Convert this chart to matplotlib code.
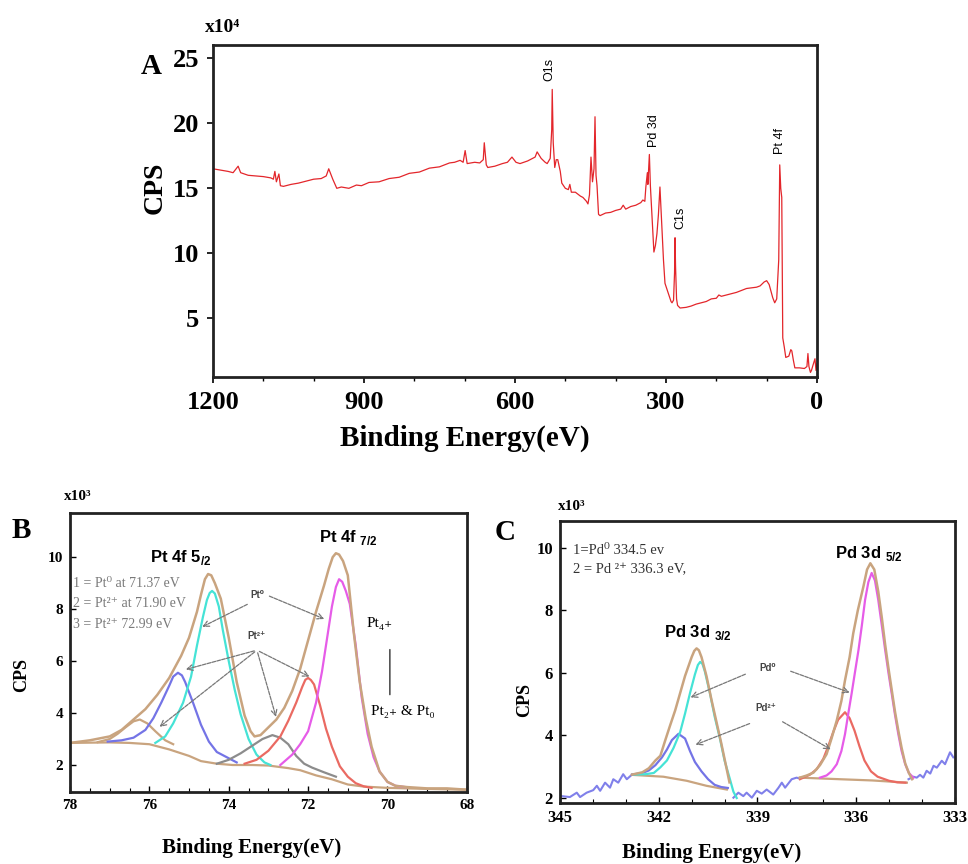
import matplotlib
matplotlib.use('Agg')
import matplotlib.pyplot as plt
from matplotlib.ticker import MultipleLocator

plt.rcParams['mathtext.fontset'] = 'custom'
plt.rcParams['mathtext.rm'] = 'Liberation Sans'
plt.rcParams['mathtext.bf'] = 'Liberation Sans:bold'

SERIF = ['Liberation Serif', 'DejaVu Serif']
SANS = ['Liberation Sans', 'DejaVu Sans']

# ---------------- panel A : survey spectrum (x10^4 CPS) ----------------
A_be = [1200, 1185, 1170, 1160, 1150, 1145, 1130, 1115, 1100, 1085,
        1080, 1077, 1074, 1069, 1066, 1060, 1045, 1030, 1015, 1000,
        985, 975, 970, 962, 954, 945, 930, 915, 905, 890,
        870, 850, 830, 810, 790, 770, 750, 730, 720, 709,
        703, 699, 695, 680, 670, 663, 661, 657, 654, 640,
        625, 615, 606, 598, 590, 575, 560, 556, 548, 540,
        536, 530, 527, 526, 524, 521, 518, 515, 510, 507,
        500, 494, 491, 488, 480, 470, 465, 458, 455, 452,
        449, 446, 443, 441, 439, 437, 434, 431, 420, 410,
        400, 390, 385, 380, 370, 360, 350, 346, 342, 340,
        337, 336, 333, 331, 328, 324, 321, 318, 315, 312,
        310, 308, 305, 302, 296, 290, 288, 285, 283, 282,
        281, 279, 277, 272, 260, 250, 240, 230, 220, 210,
        200, 195, 190, 180, 170, 160, 150, 140, 130, 120,
        113, 105, 100, 95, 88, 84, 80, 76, 74, 72,
        70, 68, 65, 62, 56, 52, 50, 47, 44, 35,
        25, 20, 18, 16, 13, 11, 8, 4, 2, 0]
A_cps = [16.5, 16.4, 16.3, 16.2, 16.7, 16.2, 16.0, 15.95, 15.9, 15.8,
         15.7, 16.3, 15.5, 16.1, 15.2, 15.15, 15.3, 15.4, 15.55, 15.7,
         15.75, 15.95, 16.5, 15.7, 15.0, 15.1, 15.0, 15.25, 15.2, 15.45,
         15.5, 15.75, 15.85, 16.15, 16.25, 16.55, 16.65, 16.95, 17.0, 17.15,
         17.0, 17.9, 16.9, 17.0, 16.95, 17.2, 18.5, 16.8, 16.6, 16.7,
         16.9, 17.0, 17.4, 17.0, 16.9, 17.1, 17.4, 17.8, 17.3, 17.0,
         16.9, 17.3, 19.5, 22.6, 18.5, 16.6, 17.2, 17.2, 16.3, 15.4,
         15.0, 14.9, 15.3, 14.7, 14.7, 14.4, 14.3, 14.0, 13.8, 14.5,
         17.4, 15.5, 16.5, 20.5, 16.0, 15.2, 13.0, 12.9, 13.1, 13.15,
         13.3, 13.4, 13.7, 13.4, 13.6, 13.7, 13.9, 14.1, 14.0, 15.1,
         16.2, 15.3, 17.6, 15.2, 13.0, 10.1, 10.6, 11.5, 13.0, 15.1,
         13.5, 11.8, 9.5, 7.7, 7.0, 6.3, 6.2, 6.4, 8.5, 11.2,
         9.0, 6.5, 6.0, 5.8, 5.85, 5.95, 6.1, 6.2, 6.3, 6.5,
         6.55, 6.8, 6.7, 6.8, 6.9, 7.0, 7.15, 7.3, 7.35, 7.4,
         7.5, 7.8, 7.9, 7.6, 6.6, 6.2, 6.5, 9.5, 16.8, 15.0,
         14.3, 3.5, 2.8, 2.0, 2.1, 2.6, 2.5, 1.8, 1.2, 1.2,
         1.15, 1.3, 2.3, 1.3, 0.85, 1.0, 1.4, 1.9, 1.0, 1.5]
A_peak_names = ['O1s', 'Pd 3d', 'C1s', 'Pt 4f']
A_peak_pos = [(532, 24.1), (324, 19.4), (272, 12.7), (73, 18.6)]

# ---------------- panel B : Pt 4f (x10^3 CPS) ----------------
B_env_be = [78.0, 77.5, 77.0, 76.7, 76.4, 76.1, 75.8, 75.5, 75.2, 75.0, 74.8, 74.7, 74.6, 74.52,
            74.44, 74.35, 74.2, 74.0, 73.8, 73.6, 73.45, 73.35, 73.2, 73.0, 72.8, 72.6, 72.4, 72.2,
            72.0, 71.8, 71.6, 71.48, 71.38, 71.3, 71.22, 71.12, 71.0, 70.85, 70.7, 70.55, 70.4,
            70.2, 70.0, 69.8, 69.5, 69.0, 68.5, 68.0]
B_env = [2.85, 2.95, 3.1, 3.35, 3.75, 4.15, 4.7, 5.35, 6.2, 6.9, 7.9, 8.55, 9.15, 9.35,
         9.3, 9.0, 8.4, 6.9, 5.2, 3.9, 3.3, 3.1, 3.15, 3.45, 3.75, 4.2, 4.85, 5.7,
         6.8, 7.9, 8.9, 9.55, 10.0, 10.15, 10.1, 9.85, 9.3, 7.1, 5.2, 3.8, 2.7,
         1.75, 1.35, 1.2, 1.15, 1.1, 1.1, 1.05]
B_base_be = [78.0, 77.0, 76.5, 76.0, 75.5, 75.0, 74.7, 74.3, 73.9, 73.4, 73.0, 72.5, 72.2, 71.8,
             71.4, 71.0, 70.6, 70.0, 69.0, 68.0]
B_base = [2.85, 2.87, 2.85, 2.8, 2.6, 2.35, 2.15, 2.05, 2.0, 2.0, 1.98, 1.88, 1.8, 1.6, 1.45,
          1.25, 1.17, 1.12, 1.08, 1.05]
B_sat_be = [77.3, 77.0, 76.8, 76.6, 76.4, 76.24, 76.05, 75.85, 75.6, 75.4]
B_sat = [2.88, 3.0, 3.2, 3.45, 3.68, 3.75, 3.6, 3.3, 2.95, 2.8]
B_blue_be = [77.05, 76.7, 76.4, 76.1, 75.9, 75.7, 75.5, 75.4, 75.28, 75.18, 75.1, 74.9, 74.7, 74.5,
             74.3, 74.05, 73.8]
B_blue = [2.9, 2.95, 3.05, 3.35, 3.8, 4.4, 5.05, 5.4, 5.55, 5.45, 5.2, 4.4, 3.55, 2.9,
          2.5, 2.3, 2.1]
B_cyan_be = [75.85, 75.6, 75.4, 75.15, 74.95, 74.8, 74.65, 74.55, 74.48, 74.42, 74.35, 74.25, 74.15,
             74.0, 73.85, 73.7, 73.5, 73.3, 73.1, 72.95]
B_cyan = [2.85, 3.1, 3.6, 4.4, 5.4, 6.6, 7.7, 8.35, 8.62, 8.7, 8.6, 8.1, 7.2,
          6.0, 4.9, 3.95, 3.0, 2.4, 2.1, 2.0]
B_gray_be = [74.3, 74.0, 73.7, 73.4, 73.15, 72.9, 72.7, 72.5, 72.3, 72.1, 71.9, 71.6, 71.3]
B_gray = [2.05, 2.2, 2.45, 2.75, 3.0, 3.15, 3.05, 2.8, 2.35, 2.05, 1.9, 1.72, 1.55]
B_red_be = [73.6, 73.3, 73.0, 72.7, 72.5, 72.3, 72.15, 72.07, 72.0, 71.93, 71.85, 71.7, 71.55,
            71.4, 71.2, 71.0, 70.8, 70.6, 70.4]
B_red = [2.05, 2.2, 2.55, 3.1, 3.7, 4.4, 5.0, 5.28, 5.35, 5.27, 5.1, 4.3, 3.4,
         2.7, 1.95, 1.55, 1.3, 1.18, 1.12]
B_mag_be = [72.7, 72.4, 72.2, 72.0, 71.8, 71.65, 71.5, 71.4, 71.3, 71.22, 71.14, 71.05, 70.95,
            70.8, 70.65, 70.5, 70.35, 70.2, 70.0, 69.8, 69.55]
B_mag = [2.0, 2.4, 2.8, 3.3, 4.4, 5.6, 7.1, 8.1, 8.85, 9.15, 9.05, 8.7, 8.2,
         6.6, 4.6, 3.2, 2.3, 1.75, 1.35, 1.2, 1.15]
B_legend = ['1 = Pt\u2070 at 71.37 eV', '2 = Pt\u00b2\u207a at 71.90 eV', '3 = Pt\u00b2\u207a 72.99 eV']

# ---------------- panel C : Pd 3d (x10^3 CPS) ----------------
C_bg1_be = [344.95, 344.70, 344.49, 344.39, 344.19, 343.99, 343.88, 343.78, 343.63, 343.48, 343.38,
            343.23, 343.08, 342.97, 342.82]
C_bg1 = [2.06, 2.03, 2.17, 2.03, 2.17, 2.25, 2.39, 2.23, 2.49, 2.33, 2.6, 2.49, 2.76, 2.6, 2.74]
C_bg2_be = [339.73, 339.58, 339.43, 339.33, 339.17, 339.02, 338.87, 338.72, 338.52, 338.36, 338.26,
            338.16, 337.96, 337.81, 337.71]
C_bg2 = [2.01, 2.17, 2.06, 2.17, 2.01, 2.23, 2.14, 2.27, 2.11, 2.33, 2.49, 2.33, 2.6, 2.65, 2.62]
C_bg3_be = [334.41, 334.26, 334.16, 334.06, 333.96, 333.86, 333.75, 333.65, 333.55, 333.40, 333.30,
            333.15, 333.05]
C_bg3 = [2.6, 2.68, 2.65, 2.74, 2.65, 2.87, 2.78, 3.03, 2.97, 3.19, 3.08, 3.46, 3.3]
C_blue_be = [342.8, 342.5, 342.3, 342.1, 341.9, 341.75, 341.6, 341.4, 341.2, 341.05, 340.9, 340.7,
             340.5, 340.3, 340.1, 339.9]
C_blue = [2.75, 2.8, 2.88, 3.05, 3.3, 3.55, 3.85, 4.05, 3.9, 3.5, 3.15, 2.85, 2.6, 2.42, 2.35, 2.32]
C_cyan_be = [342.75, 342.4, 342.15, 341.95, 341.75, 341.55, 341.35, 341.2, 341.05, 340.9, 340.81,
             340.74, 340.67, 340.6, 340.44, 340.3, 340.14, 340.0, 339.85, 339.73, 339.63]
C_cyan = [2.75, 2.76, 2.8, 2.98, 3.2, 3.6, 4.1, 4.7, 5.35, 5.95, 6.25,
          6.35, 6.28, 6.05, 5.33, 4.6, 3.9, 3.2, 2.65, 2.2, 2.0]
C_env1_be = [342.8, 342.5, 342.3, 342.1, 341.95, 341.8, 341.66, 341.5, 341.35, 341.2, 341.0, 340.92,
             340.85, 340.78, 340.7, 340.55, 340.4, 340.25, 340.1, 339.95, 339.85]
C_env1 = [2.75, 2.82, 2.95, 3.2, 3.35, 3.85, 4.3, 4.8, 5.35, 5.9, 6.5, 6.7,
          6.78, 6.72, 6.5, 5.9, 5.15, 4.45, 3.75, 3.0, 2.5]
C_base1_be = [342.82, 341.86, 341.15, 340.55, 339.93]
C_base1 = [2.74, 2.68, 2.55, 2.39, 2.27]
C_red_be = [337.71, 337.4, 337.2, 337.0, 336.85, 336.7, 336.55, 336.34, 336.2, 336.05, 335.9,
            335.75, 335.55, 335.35, 335.0, 334.75, 334.5]
C_red = [2.6, 2.75, 2.92, 3.25, 3.65, 4.1, 4.5, 4.74, 4.55, 4.15, 3.65, 3.2, 2.85, 2.68, 2.55, 2.5, 2.49]
C_mag_be = [337.1, 336.9, 336.75, 336.59, 336.45, 336.34, 336.24, 336.14, 336.04, 335.93, 335.83,
            335.73, 335.63, 335.53, 335.43, 335.33, 335.22, 335.12, 335.02, 334.92, 334.82, 334.72,
            334.62, 334.51, 334.4, 334.26]
C_mag = [2.65, 2.72, 2.85, 3.08, 3.5, 4.04, 4.7, 5.33, 6.0, 6.73, 7.5, 8.33, 8.9, 9.19, 8.95, 8.33,
         7.5, 6.73, 6.0, 5.33, 4.65, 4.04, 3.5, 3.08, 2.8, 2.65]
C_env2_be = [337.71, 337.5, 337.3, 337.1, 336.9, 336.75, 336.59, 336.45, 336.34, 336.2, 336.09,
             335.95, 335.78, 335.67, 335.57, 335.45, 335.33, 335.22, 335.12, 335.02, 334.92, 334.82,
             334.72, 334.62, 334.51, 334.4, 334.3]
C_env2 = [2.65, 2.72, 2.81, 3.05, 3.4, 3.9, 4.48, 5.1, 5.76, 6.5, 7.26, 8.0, 8.76, 9.3, 9.5, 9.3,
          8.6, 7.75, 6.9, 6.15, 5.45, 4.75, 4.15, 3.6, 3.1, 2.8, 2.6]
C_base2_be = [337.71, 336.5, 335.5, 334.46]
C_base2 = [2.65, 2.6, 2.56, 2.49]
C_legend = ['1=Pd\u2070 334.5 ev', '2 = Pd \u00b2\u207a 336.3 eV,']

TAN = '#c9a47f'
CYAN = '#45e3d6'
BLUE = '#7474e6'
MAG = '#e65ce8'
RED = '#ea6a62'
GRAY = '#8c8c8c'
NOISE = '#8080ea'


def style_box(ax, size):
    for s in ax.spines.values():
        s.set_linewidth(2.0)
        s.set_color('#222222')
    for lab in ax.get_xticklabels() + ax.get_yticklabels():
        lab.set_fontfamily(SERIF)
        lab.set_fontweight('bold')
        lab.set_fontsize(size)


fig = plt.figure(figsize=(9.68, 8.64), dpi=100)

# ---------- A ----------
ax = fig.add_axes([0.220, 0.5637, 0.624, 0.384])
ax.plot(A_be, A_cps, color='#e3262b', lw=0.9)
ax.set_xlim(1200, 0)
ax.set_ylim(0.5, 26)
ax.set_xticks([1200, 900, 600, 300, 0])
ax.xaxis.set_minor_locator(MultipleLocator(100))
ax.set_yticks([5, 10, 15, 20, 25])
ax.tick_params(direction='out', length=4, width=1.2, pad=6)
ax.tick_params(which='minor', direction='out', length=3, width=1.0)
style_box(ax, 19)
for name, (xx, yy) in zip(A_peak_names, A_peak_pos):
    ax.text(xx, yy, name, rotation=90, ha='center', va='center', fontsize=9, family=SANS)
fig.text(0.145, 1 - 66 / 864, 'A', fontsize=21, fontweight='bold', family=SERIF, ha='left', va='center')
fig.text(0.212, 1 - 27 / 864, 'x10\u2074', fontsize=14, fontweight='bold', family=SERIF, ha='left', va='center')
fig.text(0.160, 1 - 188 / 864, 'CPS', rotation=90, fontsize=20, fontweight='bold', family=SERIF,
         ha='center', va='center')
fig.text(0.480, 1 - 438 / 864, 'Binding Energy(eV)', fontsize=21, fontweight='bold', family=SERIF,
         ha='center', va='center')

# ---------- B ----------
bx = fig.add_axes([0.0723, 0.0833, 0.410, 0.323])
bx.plot(B_base_be, B_base, color=TAN, lw=1.6)
bx.plot(B_sat_be, B_sat, color=TAN, lw=1.6)
bx.plot(B_blue_be, B_blue, color=BLUE, lw=1.6)
bx.plot(B_cyan_be, B_cyan, color=CYAN, lw=1.6)
bx.plot(B_gray_be, B_gray, color=GRAY, lw=1.6)
bx.plot(B_red_be, B_red, color=RED, lw=1.6)
bx.plot(B_mag_be, B_mag, color=MAG, lw=1.6)
bx.plot(B_env_be, B_env, color=TAN, lw=1.8)
bx.set_xlim(78, 68)
bx.set_ylim(0.96, 11.7)
bx.set_xticks([78, 76, 74, 72, 70, 68])
bx.xaxis.set_minor_locator(MultipleLocator(0.5))
bx.set_yticks([2, 4, 6, 8, 10])
bx.tick_params(direction='in', length=4, width=1.0, pad=5)
bx.tick_params(which='minor', direction='in', length=3, width=0.8)
style_box(bx, 11)
for i, line in enumerate(B_legend):
    bx.text(77.92, 9.0 - i * 0.8, line, fontsize=10, color='#7a7a7a', family=SERIF, ha='left', va='center')
bx.text(75.2, 10.0, r'Pt 4f 5$_{\mathbf{/2}}$', fontsize=12, fontweight='bold', family=SANS,
        ha='center', va='center')
bx.text(71.0, 10.75, r'Pt 4f $_{\mathbf{7/2}}$', fontsize=12, fontweight='bold', family=SANS,
        ha='center', va='center')
arrow = dict(arrowstyle='->', color='#777777', lw=0.9, linestyle=(0, (3, 1)))
bx.text(73.29, 8.55, 'Pt\u2070', fontsize=7, fontweight='bold', family=SANS, ha='center', va='center',
        color='#444444')
bx.annotate('', xy=(74.73, 7.27), xytext=(73.47, 8.23), arrowprops=arrow)
bx.annotate('', xy=(71.53, 7.58), xytext=(73.04, 8.54), arrowprops=arrow)
bx.text(73.29, 6.95, 'Pt\u00b2\u207a', fontsize=7, fontweight='bold', family=SANS, ha='center',
        va='center', color='#444444')
for tx, ty in [(75.15, 5.65), (75.8, 3.4), (72.79, 3.75), (71.9, 5.35)]:
    bx.annotate('', xy=(tx, ty), xytext=(73.29, 6.42), arrowprops=arrow)
bx.text(70.2, 7.45, 'Pt\u2084\u208a', fontsize=11, family=SERIF, ha='center', va='center')
bx.annotate('', xy=(69.94, 4.6), xytext=(69.94, 6.55),
            arrowprops=dict(arrowstyle='-', color='#333333', lw=1.0))
bx.text(69.6, 4.05, 'Pt\u2082\u208a & Pt\u2080', fontsize=11, family=SERIF, ha='center', va='center')
fig.text(12 / 968, 1 - 530 / 864, 'B', fontsize=21, fontweight='bold', family=SERIF, ha='left', va='center')
fig.text(64 / 968, 1 - 496 / 864, 'x10\u00b3', fontsize=11, fontweight='bold', family=SERIF,
         ha='left', va='center')
fig.text(22 / 968, 1 - 675 / 864, 'CPS', rotation=90, fontsize=13, fontweight='bold', family=SERIF,
         ha='center', va='center')
fig.text(252 / 968, 1 - 848 / 864, 'Binding Energy(eV)', fontsize=15, fontweight='bold', family=SERIF,
         ha='center', va='center')

# ---------- C ----------
cx = fig.add_axes([0.5785, 0.0706, 0.408, 0.326])
for xs, ys in [(C_bg1_be, C_bg1), (C_bg2_be, C_bg2), (C_bg3_be, C_bg3)]:
    cx.plot(xs, ys, color=NOISE, lw=1.5)
cx.plot(C_base1_be, C_base1, color=TAN, lw=1.6)
cx.plot(C_base2_be, C_base2, color=TAN, lw=1.6)
cx.plot(C_blue_be, C_blue, color=BLUE, lw=1.6)
cx.plot(C_cyan_be, C_cyan, color=CYAN, lw=1.6)
cx.plot(C_red_be, C_red, color=RED, lw=1.6)
cx.plot(C_mag_be, C_mag, color=MAG, lw=1.6)
cx.plot(C_env1_be, C_env1, color=TAN, lw=1.8)
cx.plot(C_env2_be, C_env2, color=TAN, lw=1.8)
cx.set_xlim(345, 333)
cx.set_ylim(1.84, 10.84)
cx.set_xticks([345, 342, 339, 336, 333])
cx.xaxis.set_minor_locator(MultipleLocator(1))
cx.set_yticks([2, 4, 6, 8, 10])
cx.tick_params(direction='in', length=4, width=1.0, pad=5)
cx.tick_params(which='minor', direction='in', length=3, width=0.8)
style_box(cx, 12)
for i, line in enumerate(C_legend):
    cx.text(344.6, 9.9 - i * 0.62, line, fontsize=10.5, color='#333333', family=SERIF, ha='left',
            va='center')
cx.text(335.6, 9.8, r'Pd 3d $_{\mathbf{5/2}}$', fontsize=12, fontweight='bold', family=SANS,
        ha='center', va='center')
cx.text(340.8, 7.3, r'Pd 3d $_{\mathbf{3/2}}$', fontsize=12, fontweight='bold', family=SANS,
        ha='center', va='center')
cx.text(338.68, 6.15, 'Pd\u2070', fontsize=7, fontweight='bold', family=SANS, ha='center', va='center',
        color='#444444')
cx.annotate('', xy=(341.11, 5.18), xytext=(339.29, 5.99), arrowprops=arrow)
cx.annotate('', xy=(336.12, 5.34), xytext=(338.07, 6.08), arrowprops=arrow)
cx.text(338.74, 4.86, 'Pd\u00b2\u207a', fontsize=7, fontweight='bold', family=SANS, ha='center',
        va='center', color='#444444')
cx.annotate('', xy=(340.96, 3.67), xytext=(339.16, 4.41), arrowprops=arrow)
cx.annotate('', xy=(336.70, 3.51), xytext=(338.31, 4.48), arrowprops=arrow)
fig.text(495 / 968, 1 - 533 / 864, 'C', fontsize=21, fontweight='bold', family=SERIF, ha='left', va='center')
fig.text(558 / 968, 1 - 507 / 864, 'x10\u00b3', fontsize=11, fontweight='bold', family=SERIF,
         ha='left', va='center')
fig.text(525 / 968, 1 - 700 / 864, 'CPS', rotation=90, fontsize=13, fontweight='bold', family=SERIF,
         ha='center', va='center')
fig.text(712 / 968, 1 - 853 / 864, 'Binding Energy(eV)', fontsize=15, fontweight='bold', family=SERIF,
         ha='center', va='center')

fig.savefig('out.png', dpi=100)
